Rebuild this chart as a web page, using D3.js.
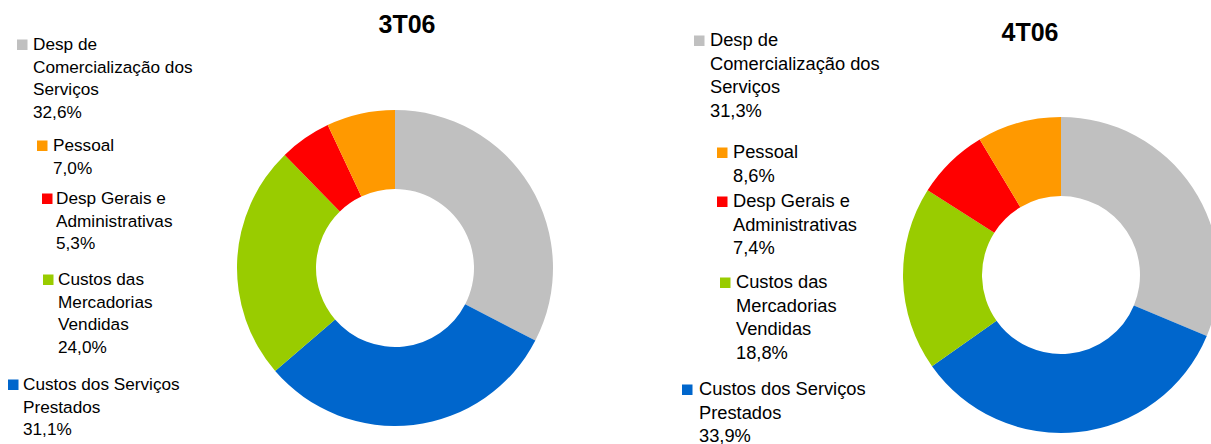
<!DOCTYPE html>
<html>
<head>
<meta charset="utf-8">
<script src="https://cdn.jsdelivr.net/npm/d3@7"></script>
<style>
  body { margin: 0; background: #fff; }
  svg { display: block; }
</style>
</head>
<body>
<div id="chart"></div>
<script>
// data
var categories = ["Desp de Comercialização dos Serviços", "Custos dos Serviços Prestados", "Custos das Mercadorias Vendidas", "Desp Gerais e Administrativas", "Pessoal"];
var colors = ["#C0C0C0", "#0066CC", "#99CC00", "#FF0000", "#FF9900"];
var periods = ["3T06", "4T06"];
var values3T06 = [32.6, 31.1, 24.0, 5.3, 7.0];
var values4T06 = [31.3, 33.9, 18.8, 7.4, 8.6];

// how each legend label wraps
var wrapped = [
    ["Desp de", "Comercialização dos", "Serviços"],
    ["Custos dos Serviços", "Prestados"],
    ["Custos das", "Mercadorias", "Vendidas"],
    ["Desp Gerais e", "Administrativas"],
    ["Pessoal"]
];

// layout of each panel
var panels = [
    {
        values: values3T06, cx: 395, cy: 268, r: 158, ir: 79,
        titleX: 407, titleY: 33, font: 17.2, lh: 22.5,
        // [square x, text x, first baseline] per category
        legend: [[17, 33, 50], [8, 23, 390], [43, 58, 285], [42, 56, 204], [37, 53, 151]]
    },
    {
        values: values4T06, cx: 1061, cy: 275, r: 158, ir: 79,
        titleX: 1030, titleY: 41, font: 18.3, lh: 23.5,
        legend: [[694, 710, 46], [682, 699, 395], [720, 736, 288], [717, 733, 207], [717, 733, 158]]
    }
];

var width = 1211, height = 444;
var fmt = function (v) { return d3.format(".1f")(v).replace(".", ",") + "%"; };

var svg = d3.select("#chart").append("svg")
    .attr("width", width).attr("height", height);

var pie = d3.pie().sort(null).value(function (d) { return d; });

panels.forEach(function (p, i) {
    var g = svg.append("g");

    // title
    g.append("text")
        .attr("x", p.titleX).attr("y", p.titleY)
        .attr("text-anchor", "middle")
        .style("font-family", "'Liberation Sans', Arial, sans-serif")
        .style("font-weight", "bold")
        .style("font-size", "25px")
        .text(periods[i]);

    // donut
    var arc = d3.arc().innerRadius(p.ir).outerRadius(p.r);
    g.append("g")
        .attr("transform", "translate(" + p.cx + "," + p.cy + ")")
        .selectAll("path")
        .data(pie(p.values))
        .enter().append("path")
        .attr("d", arc)
        .attr("fill", function (d, j) { return colors[j]; });

    // legend
    categories.forEach(function (c, j) {
        var L = p.legend[j];
        var sq = 10.5;
        g.append("rect")
            .attr("x", L[0]).attr("y", L[2] - sq)
            .attr("width", sq).attr("height", sq)
            .attr("fill", colors[j]);
        var t = g.append("text")
            .attr("x", L[1]).attr("y", L[2])
            .style("font-family", "'Liberation Sans', Arial, sans-serif")
            .style("font-size", p.font + "px")
            .style("fill", "#000");
        var lines = wrapped[j].concat([fmt(p.values[j])]);
        lines.forEach(function (ln, k) {
            t.append("tspan")
                .attr("x", L[1])
                .attr("y", L[2] + k * p.lh)
                .text(ln);
        });
    });
});
</script>
</body>
</html>
